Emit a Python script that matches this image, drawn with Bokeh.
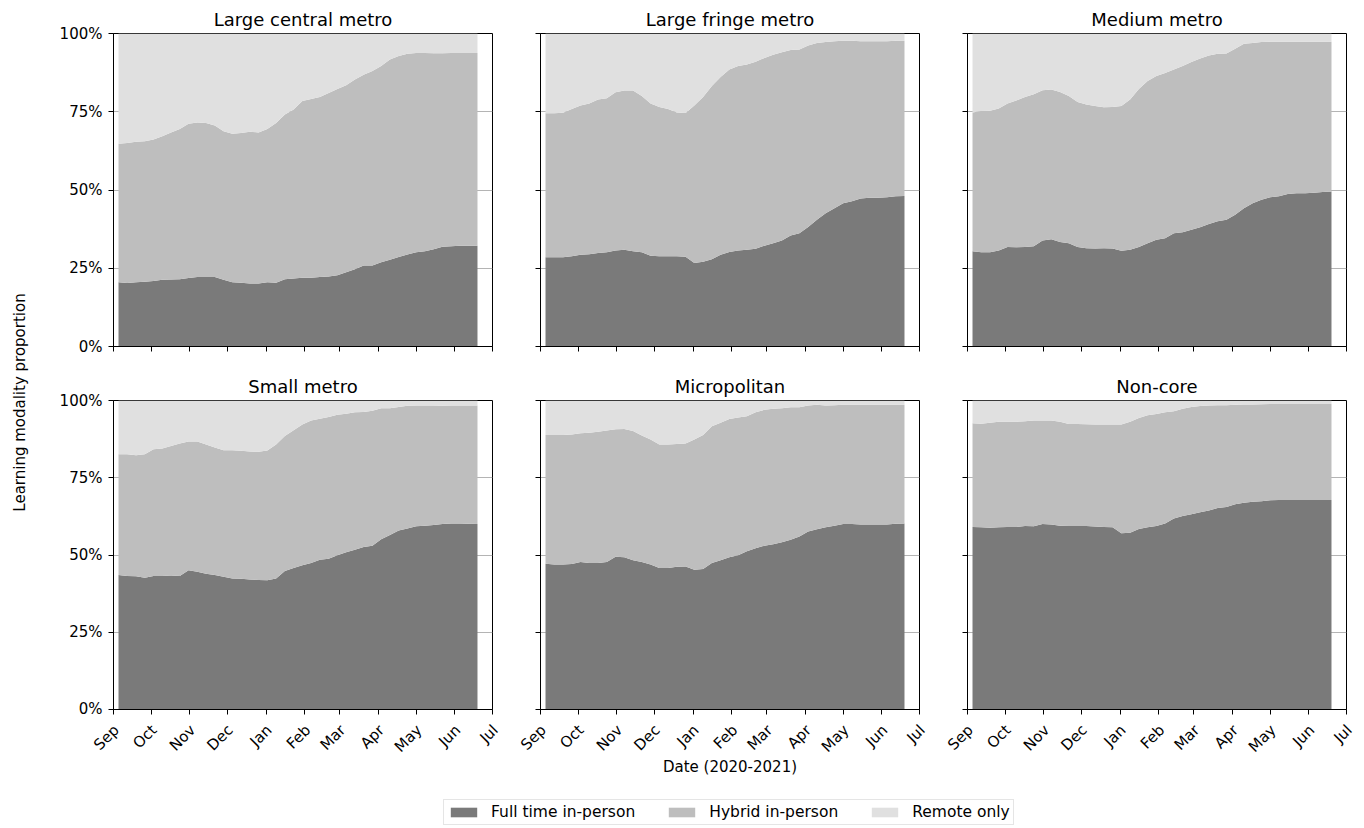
import math
import pandas as pd
from bokeh.plotting import figure
from bokeh.layouts import row, column
from bokeh.models import Range1d, FixedTicker, Legend, LegendItem, ColumnDataSource
from bokeh.core.properties import value
from bokeh.embed import file_html
from bokeh.resources import INLINE

FONT = "DejaVu Sans"
C_FULL = "#7a7a7a"
C_HYB = "#bebebe"
C_REM = "#e0e0e0"

# ---------------- data ----------------
week_start = "2020-09-05"
n_weeks = 42
month_labels = ["Sep", "Oct", "Nov", "Dec", "Jan", "Feb", "Mar", "Apr", "May", "Jun", "Jul"]
y_tick_labels = ["0%", "25%", "50%", "75%", "100%"]
panel_titles = ["Large central metro", "Large fringe metro", "Medium metro",
                "Small metro", "Micropolitan", "Non-core"]
series_names = ["Full time in-person", "Hybrid in-person", "Remote only"]
x_title = "Date (2020-2021)"
y_title = "Learning modality proportion"

# full-time in-person share (%), and any in-person share = full time + hybrid (%)
full_lcm = [20.5, 20.3, 20.5, 20.7, 20.9, 21.3, 21.4, 21.5, 21.9, 22.2, 22.2, 22.2, 21.3, 20.5,
            20.4, 20.1, 20.1, 20.5, 20.4, 21.5, 21.7, 22.0, 22.0, 22.2, 22.4, 22.8, 23.7, 24.7,
            25.9, 25.9, 26.9, 27.7, 28.6, 29.4, 30.1, 30.4, 31.1, 31.9, 32.0, 32.2, 32.2, 32.2]
any_lcm = [64.8, 65.0, 65.4, 65.6, 66.1, 67.2, 68.4, 69.5, 71.2, 71.6, 71.4, 70.6, 68.8, 68.0,
           68.2, 68.6, 68.4, 69.5, 71.4, 74.1, 75.7, 78.4, 79.1, 79.7, 81.0, 82.3, 83.5, 85.3,
           86.8, 88.0, 89.6, 91.7, 92.8, 93.5, 93.8, 93.8, 93.7, 93.7, 93.8, 93.8, 93.8, 93.8]

full_lfm = [28.5, 28.5, 28.5, 28.8, 29.3, 29.5, 29.9, 30.1, 30.7, 30.9, 30.4, 30.1, 29.0, 28.8,
            28.8, 28.8, 28.7, 26.7, 27.1, 27.9, 29.3, 30.2, 30.7, 30.9, 31.2, 32.2, 33.0, 33.9,
            35.5, 36.2, 38.2, 40.5, 42.6, 44.2, 45.8, 46.4, 47.3, 47.5, 47.5, 47.7, 48.0, 48.1]
any_lfm = [74.5, 74.5, 74.7, 75.9, 77.0, 77.6, 78.9, 79.3, 81.2, 81.8, 81.8, 80.0, 77.6, 76.5,
           75.9, 74.8, 74.6, 77.0, 79.7, 83.2, 86.1, 88.5, 89.6, 90.1, 91.0, 92.2, 93.2, 94.0,
           94.7, 94.9, 96.2, 97.0, 97.3, 97.5, 97.7, 97.7, 97.5, 97.5, 97.5, 97.5, 97.7, 97.7]

full_mm = [30.4, 30.1, 30.1, 30.7, 31.8, 31.7, 31.8, 32.0, 33.9, 34.3, 33.4, 33.0, 31.8, 31.4,
           31.3, 31.4, 31.3, 30.6, 30.9, 31.8, 33.0, 34.1, 34.6, 36.2, 36.5, 37.3, 38.1, 39.1,
           40.0, 40.5, 42.1, 44.2, 45.8, 46.9, 47.7, 48.0, 48.7, 49.0, 49.0, 49.1, 49.4, 49.5]
any_mm = [74.8, 75.2, 75.3, 76.0, 77.6, 78.6, 79.7, 80.6, 81.9, 82.1, 81.3, 80.0, 78.1, 77.3,
          76.8, 76.4, 76.5, 76.8, 78.9, 82.3, 84.8, 86.4, 87.4, 88.5, 89.6, 90.9, 92.0, 93.0,
          93.5, 93.6, 95.1, 96.7, 97.0, 97.3, 97.4, 97.4, 97.4, 97.4, 97.4, 97.4, 97.4, 97.4]

full_sm = [43.5, 43.2, 43.1, 42.6, 43.2, 43.2, 43.4, 43.2, 45.1, 44.6, 43.9, 43.5, 43.0, 42.4,
           42.3, 42.1, 41.9, 41.8, 42.4, 44.8, 45.8, 46.7, 47.4, 48.5, 48.8, 49.9, 50.9, 51.7,
           52.6, 53.0, 55.1, 56.5, 57.9, 58.6, 59.3, 59.5, 59.7, 60.0, 60.2, 60.2, 60.1, 60.0]
any_sm = [82.6, 82.6, 82.3, 82.6, 84.2, 84.5, 85.3, 86.1, 86.7, 86.7, 85.8, 84.8, 83.9, 83.9,
          83.7, 83.5, 83.4, 83.8, 85.8, 88.5, 90.4, 92.2, 93.5, 94.1, 94.7, 95.4, 95.7, 96.2,
          96.3, 96.7, 97.5, 97.5, 97.9, 98.3, 98.4, 98.4, 98.4, 98.3, 98.4, 98.4, 98.4, 98.4]

full_mic = [47.2, 46.9, 46.9, 47.1, 47.7, 47.4, 47.4, 47.7, 49.4, 49.3, 48.3, 47.7, 46.9, 45.8,
            45.8, 46.2, 46.3, 45.2, 45.5, 47.4, 48.3, 49.3, 49.9, 51.2, 52.2, 53.0, 53.5, 54.1,
            54.9, 56.0, 57.6, 58.3, 59.0, 59.5, 60.0, 60.0, 59.9, 59.9, 59.9, 59.9, 60.1, 60.2]
any_mic = [88.8, 88.8, 88.8, 89.0, 89.4, 89.6, 89.9, 90.3, 90.7, 90.8, 90.1, 88.7, 87.4, 85.8,
           85.8, 85.9, 86.1, 87.4, 88.8, 91.7, 92.8, 94.0, 94.5, 94.9, 96.2, 97.0, 97.3, 97.5,
           97.8, 97.8, 98.4, 98.6, 98.4, 98.5, 98.6, 98.6, 98.6, 98.6, 98.6, 98.6, 98.6, 98.6]

full_nc = [59.1, 59.0, 58.8, 59.0, 59.1, 59.1, 59.4, 59.3, 60.0, 59.9, 59.5, 59.4, 59.4, 59.4,
           59.2, 59.1, 59.0, 57.0, 57.2, 58.4, 59.0, 59.4, 60.2, 61.8, 62.6, 63.2, 63.8, 64.4,
           65.2, 65.5, 66.4, 66.9, 67.2, 67.4, 67.7, 67.8, 67.8, 67.8, 67.8, 67.8, 67.8, 67.8]
any_nc = [92.6, 92.5, 92.8, 93.1, 93.1, 93.1, 93.3, 93.5, 93.5, 93.5, 93.1, 92.4, 92.4, 92.3,
          92.2, 92.2, 92.2, 92.2, 93.1, 94.3, 95.2, 95.6, 96.2, 96.5, 97.3, 97.9, 98.2, 98.4,
          98.5, 98.5, 98.6, 98.7, 98.7, 98.8, 98.9, 98.9, 98.9, 98.9, 98.9, 98.9, 98.9, 98.9]

panel_full = [full_lcm, full_lfm, full_mm, full_sm, full_mic, full_nc]
panel_any = [any_lcm, any_lfm, any_mm, any_sm, any_mic, any_nc]

# ---------------- helpers ----------------
EPOCH = pd.Timestamp("1970-01-01")


def to_ms(ts):
    return (pd.Timestamp(ts) - EPOCH).total_seconds() * 1000.0


dates = pd.date_range(week_start, periods=n_weeks, freq="7D")
x_ms = [to_ms(d) for d in dates]
month_ms = [to_ms(d) for d in pd.date_range("2020-09-01", "2021-07-01", freq="MS")]
X0, X1 = month_ms[0], month_ms[-1]
y_ticks = [0, 25, 50, 75, 100]

FRAME_W, FRAME_H = 379, 313
LABEL_W = 37
STRIP_H = 74
BORDER_L = [76, 37, 37]
BORDER_R = [11, 11, 12]
sources = []


def style_axis(ax):
    ax.axis_line_color = "black"
    ax.major_tick_line_color = "black"
    ax.major_tick_in = 0
    ax.major_tick_out = 5
    ax.minor_tick_line_color = None
    ax.major_label_text_font = FONT
    ax.major_label_text_font_size = "15px"
    ax.major_label_text_color = "black"


def make_panel(i):
    r, c = divmod(i, 3)
    mbl, mbr = BORDER_L[c], BORDER_R[c]
    mbt = 33 if r == 0 else 26
    mbb = 24 if r == 0 else 8
    p = figure(width=mbl + FRAME_W + mbr, height=mbt + FRAME_H + mbb,
               x_range=Range1d(X0, X1), y_range=Range1d(0, 100),
               output_backend="svg", toolbar_location=None,
               min_border_left=mbl, min_border_right=mbr,
               min_border_top=mbt, min_border_bottom=mbb,
               title=panel_titles[i])
    p.title.text_font = FONT
    p.title.text_font_size = "18px"
    p.title.text_font_style = "normal"
    p.title.align = "center"
    p.title.text_color = "black"
    p.title.standoff = 7

    src = ColumnDataSource(dict(x=x_ms, full=panel_full[i], anyp=panel_any[i],
                                zero=[0] * len(x_ms), top=[100] * len(x_ms)))
    sources.append(src)
    p.varea(x="x", y1="zero", y2="full", source=src, fill_color=C_FULL)
    p.varea(x="x", y1="full", y2="anyp", source=src, fill_color=C_HYB)
    p.varea(x="x", y1="anyp", y2="top", source=src, fill_color=C_REM)

    p.outline_line_color = "black"
    p.outline_line_width = 1
    p.background_fill_color = "white"
    p.border_fill_color = "white"

    p.xgrid.visible = False
    p.ygrid.ticker = FixedTicker(ticks=[25, 50, 75])
    p.ygrid.grid_line_color = "#b4b4b4"
    p.ygrid.grid_line_width = 1

    style_axis(p.xaxis[0])
    style_axis(p.yaxis[0])

    yax = p.yaxis[0]
    yax.ticker = FixedTicker(ticks=y_ticks)
    yax.major_label_standoff = 6
    if c == 0:
        yax.major_label_overrides = {t: lab for t, lab in zip(y_ticks, y_tick_labels)}
    else:
        yax.major_label_overrides = {t: "" for t in y_ticks}

    xax = p.xaxis[0]
    xax.ticker = FixedTicker(ticks=month_ms)
    xax.major_label_overrides = {t: "" for t in month_ms}
    xax.major_label_text_font_size = "0px"
    xax.major_label_standoff = 0
    return p


def make_strip(c):
    """Strip under a bottom panel, sharing its time scale, holding the rotated month labels."""
    mbl, mbr = BORDER_L[c], BORDER_R[c]
    ms_per_px = (X1 - X0) / FRAME_W
    p = figure(width=mbl + FRAME_W + mbr, height=STRIP_H,
               x_range=Range1d(X0 - mbl * ms_per_px, X1 + mbr * ms_per_px),
               y_range=Range1d(0, STRIP_H),
               output_backend="svg", toolbar_location=None, min_border=0,
               x_axis_location=None, y_axis_location=None)
    p.outline_line_color = None
    p.grid.visible = False
    lab_src = ColumnDataSource(dict(x=month_ms, y=[STRIP_H - 10] * len(month_ms), text=month_labels))
    p.text(x="x", y="y", text="text", source=lab_src, angle=math.pi / 4, x_offset=3,
           text_align="right", text_baseline="middle",
           text_font=value(FONT), text_font_size="15px", text_color="black")
    if c == 1:
        p.text(x=[(X0 + X1) / 2], y=[STRIP_H - 49], text=[x_title],
               text_align="center", text_baseline="middle",
               text_font=value(FONT), text_font_size="15px", text_color="black")
    return p


panels = [make_panel(i) for i in range(6)]
strips = [make_strip(c) for c in range(3)]
grid_h = panels[0].height + panels[3].height + STRIP_H

# shared y label
ylab = figure(width=LABEL_W, height=grid_h, x_range=Range1d(0, LABEL_W),
              y_range=Range1d(0, grid_h), output_backend="svg", toolbar_location=None,
              min_border=0, x_axis_location=None, y_axis_location=None)
ylab.outline_line_color = None
ylab.grid.visible = False
ylab.text(x=[19.5], y=[grid_h - 402], text=[y_title],
          angle=math.pi / 2, text_align="center", text_baseline="middle",
          text_font=value(FONT), text_font_size="15px", text_color="black")

# legend strip
total_w = LABEL_W + sum(p.width for p in panels[:3])
leg_h = 826 - grid_h
legf = figure(width=total_w, height=leg_h, x_range=Range1d(0, 1), y_range=Range1d(0, 1),
              output_backend="svg", toolbar_location=None, min_border=0,
              x_axis_location=None, y_axis_location=None)
legf.outline_line_color = None
legf.grid.visible = False
src0 = sources[0]
rends = [
    legf.varea(x="x", y1="zero", y2="full", source=src0, fill_color=C_FULL),
    legf.varea(x="x", y1="full", y2="anyp", source=src0, fill_color=C_HYB),
    legf.varea(x="x", y1="anyp", y2="top", source=src0, fill_color=C_REM),
]
legend = Legend(items=[LegendItem(label=n, renderers=[r]) for n, r in zip(series_names, rends)],
                orientation="horizontal", location=(443, 1), margin=0, padding=3,
                spacing=30, glyph_width=33, glyph_height=12, label_standoff=11,
                label_height=14,
                label_text_font=FONT, label_text_font_size="15.5px", label_text_color="black",
                border_line_color="#cccccc", border_line_width=1,
                background_fill_color="white", background_fill_alpha=1)
legf.add_layout(legend, "center")

layout = column(
    row(ylab,
        column(row(*panels[:3], spacing=0), row(*panels[3:], spacing=0),
               row(*strips, spacing=0), spacing=0),
        spacing=0),
    legf, spacing=0)

open("out.html", "w").write(file_html(layout, INLINE))
